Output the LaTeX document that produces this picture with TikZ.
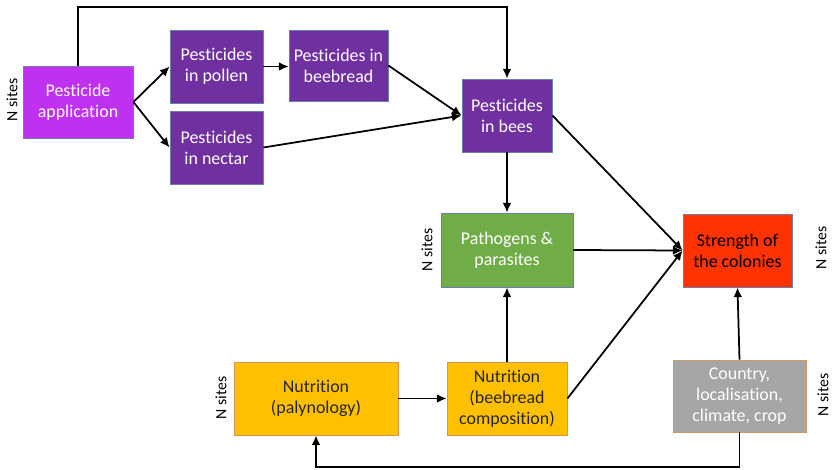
\documentclass[tikz,border=0pt]{standalone}
\usepackage{fontspec}
\setmainfont[Ligatures=NoCommon]{Carlito}
\usetikzlibrary{arrows.meta}

\definecolor{pestmag}{HTML}{C030F0}
\definecolor{pestpurple}{HTML}{7030A0}
\definecolor{pathgreen}{HTML}{70AD47}
\definecolor{colred}{HTML}{FF3300}
\definecolor{nutorange}{HTML}{FFC000}
\definecolor{envgrey}{HTML}{A6A6A6}
\definecolor{edgeblue}{HTML}{6A7FB0}

\begin{document}
\begin{tikzpicture}[
    x=0.02cm, y=-0.02cm,
    box/.style={rectangle, draw=edgeblue, line width=0.5pt, align=center,
      font=\fontsize{10.2}{12}\selectfont, inner sep=2pt},
    sites/.style={rotate=90, font=\fontsize{9}{10}\selectfont},
    flow/.style={-{Latex[length=5.5pt,width=5pt]}, line width=1pt}
  ]
    \useasboundingbox (0,0) rectangle (833,470);

    % pesticide pathway
    \node[box, fill=pestmag, text=white, minimum width=2.2cm, minimum height=1.44cm]
      (appl) at (78,102) {Pesticide\\application};
    \node[box, fill=pestpurple, text=white, minimum width=1.86cm, minimum height=1.46cm]
      (pollen) at (216.5,66.5) {Pesticides\\in pollen};
    \node[box, fill=pestpurple, text=white, minimum width=1.86cm, minimum height=1.46cm]
      (nectar) at (216.5,147.5) {Pesticides\\in nectar};
    \node[box, fill=pestpurple, text=white, minimum width=1.98cm, minimum height=1.42cm]
      (beebread) at (338.5,65.5) {Pesticides in\\beebread};
    \node[box, fill=pestpurple, text=white, minimum width=1.8cm, minimum height=1.46cm]
      (bees) at (507,115.5) {Pesticides\\in bees};

    % pathogens and colonies
    \node[box, fill=pathgreen, text=white, minimum width=2.64cm, minimum height=1.48cm]
      (path) at (507,250) {Pathogens \&\\parasites};
    \node[box, fill=colred, text=black, minimum width=2.18cm, minimum height=1.46cm]
      (strength) at (737.5,250.5) {Strength of\\the colonies};

    % nutrition and environment
    \node[box, draw=orange!80!black!70, fill=nutorange, text=black!85,
      minimum width=3.28cm, minimum height=1.46cm]
      (paly) at (316,398.5) {Nutrition\\(palynology)};
    \node[box, draw=orange!80!black!70, fill=nutorange, text=black!85,
      minimum width=2.4cm, minimum height=1.46cm]
      (nutbb) at (507,398.5) {Nutrition\\(beebread\\composition)};
    \node[box, draw=brown!80, fill=envgrey, text=white,
      minimum width=2.66cm, minimum height=1.44cm]
      (country) at (739.5,396) {Country,\\localisation,\\climate, crop};

    % sample size labels
    \node[sites] (nappl) at (12,100) {N sites};
    \node[sites] (npath) at (427,250) {N sites};
    \node[sites] (nstr) at (821,248) {N sites};
    \node[sites] (npaly) at (221,398) {N sites};
    \node[sites] (ncountry) at (823,395) {N sites};

    % connectors
    \coordinate (topleft) at (78,7);
    \coordinate (topright) at (bees.north |- topleft);
    \coordinate (botright) at (country.south |- 0,467);
    \coordinate (botleft) at (paly.south |- botright);

    \draw[flow] (appl.north) -- (topleft) -- (topright) -- (bees.north);
    \draw[flow] (appl.east) -- (pollen.west);
    \draw[flow] (appl.east) -- (nectar.west);
    \draw[flow] (pollen.east) -- (pollen.east -| beebread.west);
    \draw[flow] (beebread.east) -- (bees.west);
    \draw[flow] (nectar.east) -- (bees.west);
    \draw[flow] (bees.south) -- (path.north);
    \draw[flow] (bees.east) -- (strength.west);
    \draw[flow] (path.east) -- (strength.west);
    \draw[flow] (nutbb.east) -- (strength.west);
    \draw[flow] (nutbb.north) -- (path.south);
    \draw[flow] (paly.east) -- (nutbb.west);
    \draw[flow] (country.north) -- (strength.south);
    \draw[flow] (country.south) -- (botright) -- (botleft) -- (paly.south);
  \end{tikzpicture}
\end{document}
